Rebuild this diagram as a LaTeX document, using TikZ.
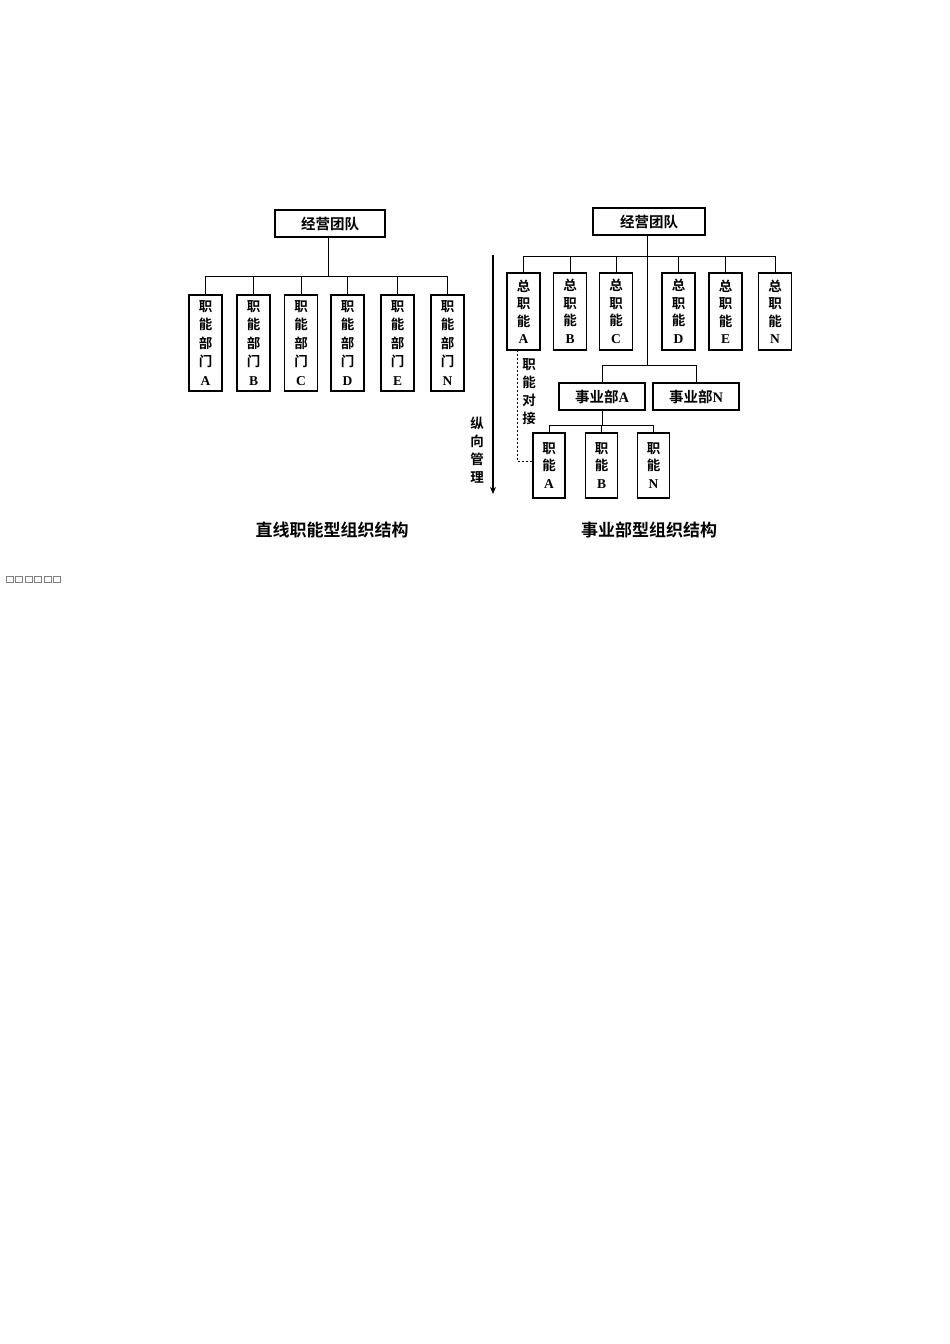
\documentclass[tikz,border=0pt]{standalone}
\usepackage{fontspec}
\newfontfamily\cjk{Noto Sans CJK SC}[BoldFont={Noto Sans CJK SC Bold}]
\newfontfamily\latf{Liberation Serif}
\newcommand{\ltr}[1]{{\latf\bfseries #1}}
\usetikzlibrary{arrows.meta}
\begin{document}
\begin{tikzpicture}[x=1pt,y=-1pt,
  box/.style={draw,line width=1.6pt,inner sep=0pt,align=center,font=\cjk\bfseries\fontsize{13.5}{18.5}\selectfont},
  vbox/.style={box,minimum width=33pt,minimum height=96pt},
  tbox/.style={box,minimum width=33pt,minimum height=77pt,font=\cjk\bfseries\fontsize{13.5}{17.5}\selectfont},
  sbox/.style={box,minimum width=32pt,minimum height=65pt,font=\cjk\bfseries\fontsize{13.5}{17.5}\selectfont},
  hbox/.style={box,minimum height=27pt,font=\cjk\bfseries\fontsize{14.5}{16}\selectfont},
  conn/.style={line width=0.8pt},
  lbl/.style={align=center,inner sep=0pt,font=\cjk\bfseries\fontsize{13.5}{18}\selectfont},
  title/.style={inner sep=0pt,font=\cjk\bfseries\fontsize{17}{19}\selectfont}]
\useasboundingbox (0,0) rectangle (950,1344);
\fill[white] (0,0) rectangle (950,1344);
% ---------- left chart ----------
\node[hbox,minimum width=110pt] (ltop) at (330,223.5) {经营团队};
\node[vbox] (la) at (205.5,343) {职\\能\\部\\门\\\ltr{A}};
\node[vbox] (lb) at (253.5,343) {职\\能\\部\\门\\\ltr{B}};
\node[vbox] (lc) at (301,343) {职\\能\\部\\门\\\ltr{C}};
\node[vbox] (ld) at (347.5,343) {职\\能\\部\\门\\\ltr{D}};
\node[vbox] (le) at (397.5,343) {职\\能\\部\\门\\\ltr{E}};
\node[vbox] (ln) at (447.5,343) {职\\能\\部\\门\\\ltr{N}};
\coordinate (lbus) at (328,276);
\draw[conn] (ltop.south -| lbus) -- (lbus);
\draw[conn] (la.north) -- (la.north |- lbus) -- (ln.north |- lbus) -- (ln.north);
\foreach \n in {lb,lc,ld,le} \draw[conn] (\n.north) -- (\n.north |- lbus);
% ---------- right chart ----------
\node[hbox,minimum width=112pt] (rtop) at (649,221.5) {经营团队};
\node[tbox] (ta) at (523.5,311.5) {总\\职\\能\\\ltr{A}};
\node[tbox] (tb) at (570,311.5) {总\\职\\能\\\ltr{B}};
\node[tbox] (tc) at (616,311.5) {总\\职\\能\\\ltr{C}};
\node[tbox] (td) at (678.5,311.5) {总\\职\\能\\\ltr{D}};
\node[tbox] (te) at (725.5,311.5) {总\\职\\能\\\ltr{E}};
\node[tbox] (tn) at (775,311.5) {总\\职\\能\\\ltr{N}};
\coordinate (rbus) at (647,256);
\coordinate (rmid) at (647,365);
\draw[conn] (rtop.south -| rbus) -- (rmid);
\draw[conn] (ta.north) -- (ta.north |- rbus) -- (tn.north |- rbus) -- (tn.north);
\foreach \n in {tb,tc,td,te} \draw[conn] (\n.north) -- (\n.north |- rbus);
\node[hbox,minimum width=86pt] (sya) at (602,396.5) {事业部\ltr{A}};
\node[hbox,minimum width=86pt] (syn) at (696,396.5) {事业部\ltr{N}};
\draw[conn] (sya.north) -- (sya.north |- rmid) -- (syn.north |- rmid) -- (syn.north);
\node[sbox] (fa) at (549,465.5) {职\\能\\\ltr{A}};
\node[sbox] (fb) at (601.5,465.5) {职\\能\\\ltr{B}};
\node[sbox] (fn) at (653.5,465.5) {职\\能\\\ltr{N}};
\coordinate (sbus) at (602,425);
\draw[conn] (sya.south -| sbus) -- (sbus);
\draw[conn] (fa.north) -- (fa.north |- sbus) -- (fn.north |- sbus) -- (fn.north);
\draw[conn] (fb.north) -- (fb.north |- sbus);
% dashed link
\coordinate (dtop) at (517,350);
\coordinate (dcorner) at (517,461);
\draw[conn,dash pattern=on 2pt off 2pt] (dtop) -- (dcorner) -- (dcorner -| fa.west);
\node[lbl] (ldj) at (529,392) {职\\能\\对\\接};
% vertical management arrow
\coordinate (atop) at (493,255);
\coordinate (abot) at (493,494);
\draw[line width=1.2pt,-{Stealth[length=7pt,width=6pt]}] (atop) -- (abot);
\node[lbl] (lzx) at (477,450) {纵\\向\\管\\理};
% titles
\node[title] (t1) at (332,530) {直线职能型组织结构};
\node[title] (t2) at (649,530) {事业部型组织结构};
% missing-glyph boxes
\foreach \i in {0,...,5} \draw[line width=0.5pt,gray] (6+\i*9.5,576) rectangle (13+\i*9.5,582);
\end{tikzpicture}
\end{document}
